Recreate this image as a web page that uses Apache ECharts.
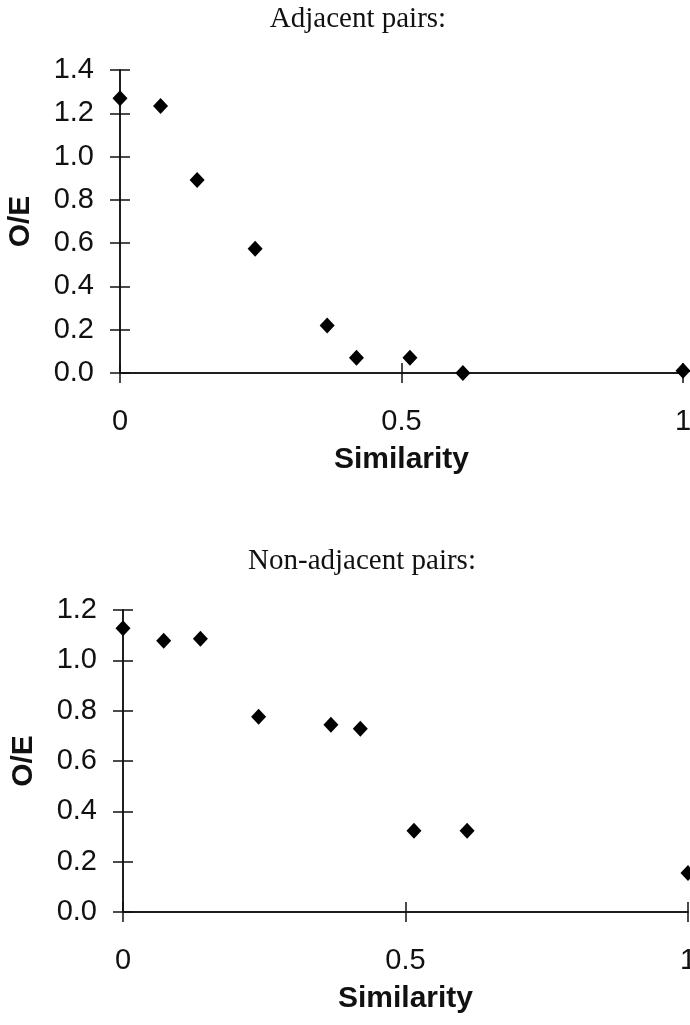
<!DOCTYPE html>
<html>
<head>
<meta charset="utf-8">
<title>O/E vs Similarity</title>
<script src="https://cdn.jsdelivr.net/npm/echarts@6/dist/echarts.min.js"></script>
<style>
    html, body { margin: 0; padding: 0; background: #fff; }
    #main { width: 690px; height: 1025px; }
</style>
</head>
<body>
<div id="main"></div>
<script>
/*data*/
var similarity = [0, 0.072, 0.137, 0.24, 0.368, 0.42, 0.515, 0.609, 1.0];
var adjacentOE = [1.27, 1.234, 0.892, 0.574, 0.219, 0.071, 0.071, 0.0, 0.01];
var nonAdjacentOE = [1.127, 1.078, 1.086, 0.776, 0.744, 0.728, 0.323, 0.323, 0.155];
var titles = ['Adjacent pairs:', 'Non-adjacent pairs:'];
var yMax = [1.4, 1.2];

var sans = 'Liberation Sans, Arial, sans-serif';
var serif = 'Liberation Serif, Times New Roman, serif';
var ink = '#111';

//zip x and y into points
function points(ys) {
    var out = [];
    for (var i = 0; i < similarity.length; i++) {
        out.push([similarity[i], ys[i]]);
    }
    return out;
}

var grids = [
    { left: 120, width: 563, top: 70, height: 303, outerBoundsMode: 'none', containLabel: false },
    { left: 123, width: 565, top: 610, height: 302, outerBoundsMode: 'none', containLabel: false }
];

var xAxes = [], yAxes = [];
for (var g = 0; g < 2; g++) {
    //main x axis, ticks outside
    xAxes.push({
        type: 'value', gridIndex: g, position: 'bottom', min: 0, max: 1, interval: 0.5,
        name: 'Similarity', nameLocation: 'middle', nameGap: 72,
        nameTextStyle: { fontFamily: sans, fontWeight: 'bold', fontSize: 30, color: ink },
        axisLine: { onZero: false, lineStyle: { color: ink, width: 1.5 } },
        axisTick: { show: true, length: 10, lineStyle: { color: ink, width: 1.5 } },
        axisLabel: { fontFamily: sans, fontSize: 29, color: ink, margin: 34 },
        splitLine: { show: false }
    });
    //second x axis only for the inner half of the cross ticks
    xAxes.push({
        type: 'value', gridIndex: g, position: 'bottom', min: 0, max: 1, interval: 0.5,
        axisLine: { show: true, onZero: false, lineStyle: { color: ink, width: 1.5 } },
        axisTick: { show: true, inside: true, length: 10, lineStyle: { color: ink, width: 1.5 } },
        axisLabel: { show: false },
        splitLine: { show: false }
    });
    yAxes.push({
        type: 'value', gridIndex: g, position: 'left', min: 0, max: yMax[g], interval: 0.2,
        name: 'O/E', nameLocation: 'middle', nameGap: 84,
        nameTextStyle: { fontFamily: sans, fontWeight: 'bold', fontSize: 30, color: ink },
        axisLine: { show: true, onZero: false, lineStyle: { color: ink, width: 1.5 } },
        axisTick: { show: true, length: 10, lineStyle: { color: ink, width: 1.5 } },
        axisLabel: {
            fontFamily: sans, fontSize: 29, color: ink, margin: 26,
            formatter: function(v) { return v.toFixed(1); }
        },
        splitLine: { show: false }
    });
    yAxes.push({
        type: 'value', gridIndex: g, position: 'left', min: 0, max: yMax[g], interval: 0.2,
        axisLine: { show: true, onZero: false, lineStyle: { color: ink, width: 1.5 } },
        axisTick: { show: true, inside: true, length: 10, lineStyle: { color: ink, width: 1.5 } },
        axisLabel: { show: false },
        splitLine: { show: false }
    });
}

var option = {
    animation: false,
    backgroundColor: '#fff',
    title: [
        { text: titles[0], left: 353, top: 0, textAlign: 'center',
          textStyle: { fontFamily: serif, fontWeight: 'normal', fontSize: 29, color: ink } },
        { text: titles[1], left: 357, top: 542, textAlign: 'center',
          textStyle: { fontFamily: serif, fontWeight: 'normal', fontSize: 29, color: ink } }
    ],
    grid: grids,
    xAxis: xAxes,
    yAxis: yAxes,
    series: [{
        type: 'scatter', xAxisIndex: 0, yAxisIndex: 0,
        symbol: 'diamond', symbolSize: [15, 16], clip: false,
        itemStyle: { color: '#000', opacity: 1 },
        data: points(adjacentOE)
    }, {
        type: 'scatter', xAxisIndex: 2, yAxisIndex: 2,
        symbol: 'diamond', symbolSize: [15, 16], clip: false,
        itemStyle: { color: '#000', opacity: 1 },
        data: points(nonAdjacentOE)
    }]
};

var myChart = echarts.init(document.getElementById('main'));
myChart.setOption(option);
</script>
</body>
</html>
